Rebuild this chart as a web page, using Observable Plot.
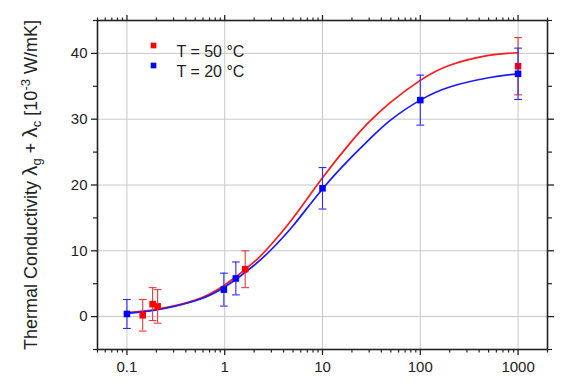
<!DOCTYPE html>
<html><head><meta charset="utf-8">
<script src="https://cdn.jsdelivr.net/npm/d3@7"></script>
<script src="https://cdn.jsdelivr.net/npm/@observablehq/plot@0.6"></script>
<style>
body{margin:0;background:#fff;}
#chart{position:relative;width:584px;height:383px;}
</style>
</head><body><div id="chart"></div>
<script>
// measured points: T = 20 °C (blue)
const blueX = [0.1, 0.98, 1.3, 10, 100, 1000];
const blueY = [0.4, 4.1, 5.8, 19.5, 32.9, 36.9];
const blueErr = [2.2, 2.5, 2.5, 3.15, 3.8, 3.9];
// measured points: T = 50 °C (red)
const redX = [0.145, 0.183, 0.206, 1.62, 1000];
const redY = [0.2, 1.9, 1.55, 7.2, 38.05];
const redErr = [2.4, 2.5, 2.55, 2.8, 4.35];
// fitted curves
const curveX = [0.1, 0.2, 0.5, 1, 2, 3, 5, 10, 20, 30, 50, 100, 200, 500, 1000];
const curveBlueY = [0.5, 1.0, 2.4, 4.5, 7.8, 10.2, 13.8, 19.4, 24.3, 26.9, 29.9, 32.9, 34.9, 36.3, 36.9];
const curveRedY  = [0.6, 1.1, 2.5, 4.8, 8.3, 11.0, 15.0, 21.1, 26.7, 29.6, 32.6, 35.9, 38.2, 39.7, 40.1];
// axes
const xMajor = [0.1, 1, 10, 100, 1000];
const xMajorLabels = ["0.1", "1", "10", "100", "1000"];
const xDecades = [0.01, 0.1, 1, 10, 100, 1000];
const yMajor = [0, 10, 20, 30, 40];
const yMinor = [-5, 5, 15, 25, 35, 45];
const legendLabels = ["T = 50 °C", "T = 20 °C"];
const legendColors = ["#ff0000", "#0000ff"];

const xMinor = xDecades.flatMap(d => [2,3,4,5,6,7,8,9].map(k => +(k*d).toPrecision(3)))
  .filter(v => v >= 0.05 && v <= 2000 && !xMajor.includes(v));

const blue = blueX.map((x, i) => ({x, y: blueY[i], e: blueErr[i]}));
const red = redX.map((x, i) => ({x, y: redY[i], e: redErr[i]}));
const cBlue = curveX.map((x, i) => ({x, y: curveBlueY[i]}));
const cRed = curveX.map((x, i) => ({x, y: curveRedY[i]}));
const legend = legendLabels.map((t, i) => ({t, c: legendColors[i]}));

const cap = {draw(ctx, size){ const w = Math.sqrt(size); ctx.moveTo(-w/2, 0); ctx.lineTo(w/2, 0); }};

function errMarks(data, color) {
  return [
    Plot.ruleX(data, {x: "x", y1: d => d.y - d.e, y2: d => d.y + d.e, stroke: color, strokeWidth: 1.1}),
    Plot.dot(data, {x: "x", y: d => d.y - d.e, symbol: cap, r: 4.4, stroke: color, fill: "none", strokeWidth: 1.1}),
    Plot.dot(data, {x: "x", y: d => d.y + d.e, symbol: cap, r: 4.4, stroke: color, fill: "none", strokeWidth: 1.1}),
  ];
}

const fmt = d => xMajorLabels[xMajor.indexOf(d)] ?? "";

const legendMarks = legend.flatMap((d, i) => [
  Plot.dot([d], {frameAnchor: "top-left", dx: 56, dy: 25 + 20 * i, symbol: "square", r: 3.2, fill: d.c, stroke: "none"}),
  Plot.text([d], {frameAnchor: "top-left", dx: 79, dy: 25 + 20 * i, text: "t", textAnchor: "start", fontSize: 16, fill: "#222"})
]);

const chart = Plot.plot({
  width: 584, height: 383,
  marginLeft: 97, marginRight: 37, marginTop: 20, marginBottom: 34,
  style: {fontFamily: "'Liberation Sans', Arial, sans-serif", background: "#fff", color: "#222"},
  x: {type: "log", domain: [0.05, 2000], axis: null},
  y: {domain: [-5, 45], axis: null},
  marks: [
    Plot.gridX(xMajor, {stroke: "#c8c8c8", strokeOpacity: 1, strokeWidth: 1}),
    Plot.gridY(yMajor, {stroke: "#c8c8c8", strokeOpacity: 1, strokeWidth: 1}),
    // axes
    Plot.axisX({anchor: "bottom", ticks: xMajor, tickSize: 6, tickPadding: 6, tickFormat: fmt, fontSize: 15, label: null, stroke: "#222", strokeWidth: 1.3}),
    Plot.axisX({anchor: "bottom", ticks: xMinor, tickSize: 3.5, tickFormat: () => "", label: null, stroke: "#222", strokeWidth: 1.2}),
    Plot.axisX({anchor: "top", ticks: xMajor, tickSize: 6, tickFormat: () => "", label: null, stroke: "#222", strokeWidth: 1.3}),
    Plot.axisX({anchor: "top", ticks: xMinor, tickSize: 3.5, tickFormat: () => "", label: null, stroke: "#222", strokeWidth: 1.2}),
    Plot.axisY({anchor: "left", ticks: yMajor, tickSize: 6, tickPadding: 4, fontSize: 15, label: null, stroke: "#222", strokeWidth: 1.3}),
    Plot.axisY({anchor: "left", ticks: yMinor, tickSize: 4, tickFormat: () => "", label: null, stroke: "#222", strokeWidth: 1.2}),
    Plot.axisY({anchor: "right", ticks: yMajor, tickSize: 6, tickFormat: () => "", label: null, stroke: "#222", strokeWidth: 1.3}),
    Plot.axisY({anchor: "right", ticks: yMinor, tickSize: 4, tickFormat: () => "", label: null, stroke: "#222", strokeWidth: 1.2}),
    Plot.frame({stroke: "#222", strokeWidth: 1.6}),
    // curves
    Plot.line(cRed, {x: "x", y: "y", stroke: "#ff1a1a", strokeWidth: 1.7, curve: "natural"}),
    Plot.line(cBlue, {x: "x", y: "y", stroke: "#1a1aff", strokeWidth: 1.7, curve: "natural"}),
    // error bars + points
    ...errMarks(red, "#e83a3a"),
    Plot.dot(red, {x: "x", y: "y", symbol: "square", r: 3.7, fill: "#ff0000", stroke: "none"}),
    ...errMarks(blue, "#2a2aff"),
    Plot.dot(blue, {x: "x", y: "y", symbol: "square", r: 3.7, fill: "#0000ff", stroke: "none"}),
    ...legendMarks
  ]
});

// y-axis title with Greek letters, subscripts and superscript
const lab = d3.select(chart).append("text")
  .attr("transform", "translate(37,185) rotate(-90)")
  .attr("text-anchor", "middle")
  .attr("fill", "#222")
  .style("font-family", "'Liberation Sans', Arial, sans-serif")
  .style("font-size", "18px");
lab.append("tspan").text("Thermal Conductivity ");
lab.append("tspan").style("font-size", "21px").text("λ");
lab.append("tspan").style("font-size", "13px").attr("dy", 4).text("g");
lab.append("tspan").attr("dy", -4).text(" + ");
lab.append("tspan").style("font-size", "21px").text("λ");
lab.append("tspan").style("font-size", "13px").attr("dy", 4).text("c");
lab.append("tspan").attr("dy", -4).text(" [10");
lab.append("tspan").style("font-size", "13px").attr("dy", -7).text("-3");
lab.append("tspan").attr("dy", 7).text(" W/mK]");

document.getElementById("chart").appendChild(chart);
</script>
</body></html>
